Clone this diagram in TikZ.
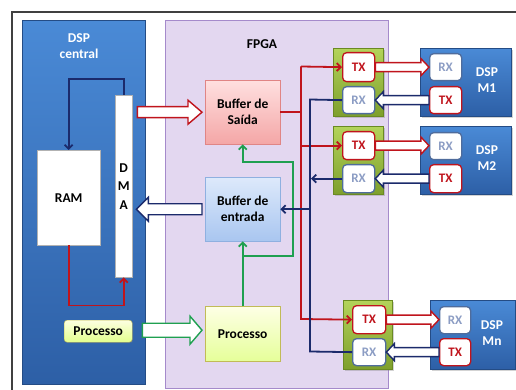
\documentclass[tikz,border=0pt]{standalone}
\usepackage{fontspec}
\setmainfont{Carlito}
\usetikzlibrary{arrows.meta,calc,shadows}
\definecolor{dred}{HTML}{C0141C}
\definecolor{navy}{HTML}{1B2A6B}
\definecolor{lgreen}{HTML}{1FA050}
\definecolor{bluetop}{HTML}{4A8AD6}
\definecolor{bluebot}{HTML}{2D5FA6}
\definecolor{fpgafill}{HTML}{E3D7F0}
\definecolor{fpgaline}{HTML}{A58ACB}
\definecolor{rxtext}{HTML}{8C9DC4}
\definecolor{rxline}{HTML}{4F6C9C}
\definecolor{blktop}{HTML}{B3D35A}
\definecolor{blkbot}{HTML}{7E9F2C}
\definecolor{blkline}{HTML}{6A8A22}
\definecolor{entop}{HTML}{DDE9FB}
\definecolor{enbot}{HTML}{A9C6F0}
\definecolor{enline}{HTML}{8FB0E0}
\definecolor{satop}{HTML}{FFE0E0}
\definecolor{sabot}{HTML}{F4A6A6}
\definecolor{saline}{HTML}{E08585}
\newcommand\fatarrow[6]{%
  \draw[#1] let \p1=(#2), \p2=(#3), \n1={(\x2>\x1)*2-1} in
    (\x1,{\y1+#4}) -- ({\x2-\n1*#6},{\y1+#4}) -- ({\x2-\n1*#6},{\y1+#5})
    -- (\x2,\y1) -- ({\x2-\n1*#6},{\y1-#5}) -- ({\x2-\n1*#6},{\y1-#4})
    -- (\x1,{\y1-#4}) -- cycle;}
\begin{document}
\begin{tikzpicture}[x=1pt,y=-1pt,
  lbl/.style={font=\bfseries\fontsize{13.5}{16}\selectfont, align=center},
  box/.style={draw, anchor=north west, inner sep=0pt, lbl},
  bluebox/.style={box, draw=bluebot!80!black, top color=bluetop, bottom color=bluebot, text=white},
  greenblk/.style={box, draw=blkline, top color=blktop, bottom color=blkbot, line width=0.8pt},
  txbox/.style={box, draw=dred, line width=1.3pt, fill=white, rounded corners=4pt, text=dred, font=\bfseries\fontsize{13}{15}\selectfont},
  rxbox/.style={box, draw=rxline, line width=1.3pt, fill=white, rounded corners=4pt, text=rxtext, font=\bfseries\fontsize{13}{15}\selectfont},
  wire/.style={line width=1.8pt},
  tip/.style={-{Straight Barb[length=4pt,width=8pt]}},
  hollow/.style={fill=white, line width=1.4pt, line join=miter},
  shad/.style={drop shadow={shadow xshift=1.5pt,shadow yshift=-1.5pt,opacity=0.35}}]
\useasboundingbox (0,0) rectangle (516,390);
% outer frame
\draw[line width=2.2pt, black!75] (516,12) -- (12,12) -- (12,392);
% panels
\node[bluebox, minimum width=123, minimum height=364] (dspc) at (22,20) {};
\node[box, draw=fpgaline, fill=fpgafill, line width=0.8pt, minimum width=223, minimum height=368] (fpga) at (165,20) {};
\node[lbl, text=white] (dspcl) at (79,46) {DSP\\central};
\node[lbl] (fpgal) at (262,44) {FPGA};
% DSP central contents
\node[box, draw=black!30, fill=white, minimum width=63, minimum height=95] (ram) at (37,150) {RAM};
\node[box, draw=black!30, fill=white, minimum width=17, minimum height=182,
      font=\bfseries\fontsize{13.5}{18.5}\selectfont] (dma) at (115,95) {D\\M\\A};
\node[box, draw=olive!55, top color=green!8!yellow!12!white, bottom color=green!25!yellow!45!white,
      rounded corners=3pt, minimum width=68, minimum height=22,
      drop shadow={shadow xshift=1pt,shadow yshift=-1pt,opacity=0.3}] (procD) at (64,320) {Processo};
% FPGA contents
\node[box, draw=saline, top color=satop, bottom color=sabot, minimum width=75, minimum height=64] (saida) at (205,80) {Buffer de\\Saída};
\node[box, draw=enline, top color=entop, bottom color=enbot, minimum width=75, minimum height=64] (entrada) at (205,177) {Buffer de\\entrada};
\node[box, draw=olive!55, top color=green!5!yellow!10!white, bottom color=green!25!yellow!40!white, minimum width=75, minimum height=55] (procF) at (205,306) {Processo};
% transceiver blocks
\node[greenblk, shad, minimum width=50, minimum height=68] (blk1) at (333,48) {};
\node[greenblk, shad, minimum width=50, minimum height=68] (blk2) at (333,126) {};
\node[greenblk, shad, minimum width=49, minimum height=69] (blkn) at (343,300) {};
\node[txbox, minimum width=32, minimum height=29] (tx1) at (342,52) {TX};
\node[rxbox, minimum width=32, minimum height=27] (rx1) at (342,86) {RX};
\node[txbox, minimum width=32, minimum height=28] (tx2) at (342,131) {TX};
\node[rxbox, minimum width=32, minimum height=28] (rx2) at (342,164) {RX};
\node[txbox, minimum width=33, minimum height=28] (txn) at (352,305) {TX};
\node[rxbox, minimum width=33, minimum height=27] (rxn) at (352,338) {RX};
% slave DSPs
\node[bluebox, shad, minimum width=91, minimum height=68] (m1) at (420,48) {};
\node[bluebox, shad, minimum width=91, minimum height=68] (m2) at (420,126) {};
\node[bluebox, shad, minimum width=85, minimum height=69] (mn) at (430,300) {};
\node[lbl, text=white] (m1l) at (487,80) {DSP\\M1};
\node[lbl, text=white] (m2l) at (487,158) {DSP\\M2};
\node[lbl, text=white] (mnl) at (492,333) {DSP\\Mn};
\node[rxbox, minimum width=32, minimum height=27] (m1rx) at (429,53) {RX};
\node[txbox, minimum width=32, minimum height=27] (m1tx) at (429,86) {TX};
\node[rxbox, minimum width=32, minimum height=27] (m2rx) at (429,132) {RX};
\node[txbox, minimum width=32, minimum height=28] (m2tx) at (429,164) {TX};
\node[rxbox, minimum width=31, minimum height=27] (mnrx) at (439,306) {RX};
\node[txbox, minimum width=31, minimum height=27] (mntx) at (439,338) {TX};
% DSP central wiring
\draw[wire, navy, tip] (dma.north) -- ++(0,-16) -| (ram.north);
\draw[wire, dred, tip] (ram.south) -- ++(0,60) -| (dma.south);
% big hollow arrows
\fatarrow{hollow, draw=dred}{$(dma.east |- saida.west)+(5,0)$}{$(saida.west)+(-3,0)$}{5.5pt}{12pt}{14pt}
\fatarrow{hollow, draw=navy}{$(entrada.west)+(-3,0)$}{$(dma.east |- entrada.west)+(4,0)$}{5.5pt}{12pt}{12pt}
\fatarrow{hollow, draw=lgreen}{$(procD.east)+(10,-1)$}{$(procF.west |- procD.east)+(-3,-1)$}{7pt}{14pt}{12pt}
% green feedback
\coordinate (gj) at (242.5,256);
\coordinate (gr) at (293,162);
\draw[wire, lgreen, tip] (procF.north) -- (entrada.south);
\draw[wire, lgreen, tip] (gj) -| (gr) -| (saida.south);
% red distribution
\coordinate (rtop) at (301,66.5);
\coordinate (rbot) at (301,319);
\draw[wire, dred] (saida.east) -- (saida.east -| rtop);
\draw[wire, dred, tip] (rtop) -- (tx1.west);
\draw[wire, dred, tip] (rtop) -- (rbot) -- (txn.west);
\draw[wire, dred, tip] (tx2.west -| rtop) -- (tx2.west);
% blue collection
\coordinate (btop) at (310,99.5);
\coordinate (bbot) at (310,351.5);
\draw[wire, navy] (rx1.west) -- (btop) -- (bbot) -- (rxn.west);
\draw[wire, navy, tip] (rx2.west) -- ($(rx2.west -| btop)+(1,0)$);
\draw[wire, navy, tip] (entrada.east -| btop) -- (entrada.east);
% small hollow arrows
\fatarrow{hollow, draw=dred}{tx1.east}{m1rx.west}{4.5pt}{8.5pt}{8pt}
\fatarrow{hollow, draw=navy}{m1tx.west}{rx1.east}{4.5pt}{8.5pt}{8pt}
\fatarrow{hollow, draw=dred}{tx2.east}{m2rx.west |- tx2.east}{4.5pt}{8.5pt}{8pt}
\fatarrow{hollow, draw=navy}{m2tx.west}{rx2.east |- m2tx.west}{4.5pt}{8.5pt}{8pt}
\fatarrow{hollow, draw=dred}{txn.east}{mnrx.west |- txn.east}{4.5pt}{8.5pt}{8pt}
\fatarrow{hollow, draw=navy}{mntx.west}{rxn.east |- mntx.west}{4.5pt}{8.5pt}{8pt}
\end{tikzpicture}
\end{document}
